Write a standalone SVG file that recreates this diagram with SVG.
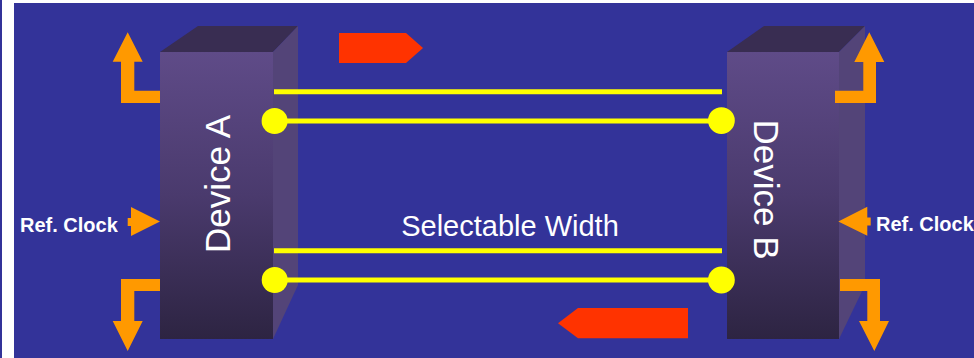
<svg xmlns="http://www.w3.org/2000/svg" width="974" height="358" viewBox="0 0 974 358">
  <defs>
    <linearGradient id="frontFace" x1="0" y1="0" x2="0" y2="1">
      <stop offset="0" stop-color="#5f4b88"/>
      <stop offset="0.5" stop-color="#4a3a6d"/>
      <stop offset="1" stop-color="#2d2442"/>
    </linearGradient>
    <style>
      .bg { fill: #333399; }
      .front { fill: url(#frontFace); }
      .top { fill: #392d52; }
      .side { fill: #534478; }
      .orange { fill: #ff9900; }
      .red { fill: #ff3300; }
      .wire { stroke: #ffff00; stroke-width: 5; fill: none; }
      .dot { fill: #ffff00; }
      .dev-label { font-family: "Liberation Sans", Arial, sans-serif; font-size: 35px; fill: #ffffff; text-anchor: middle; }
      .clock-label { font-family: "Liberation Sans", Arial, sans-serif; font-size: 20px; font-weight: bold; fill: #ffffff; }
      .width-label { font-family: "Liberation Sans", Arial, sans-serif; font-size: 29px; fill: #ffffff; text-anchor: middle; }
    </style>
  </defs>

  <!-- page -->
  <rect x="0" y="0" width="974" height="358" fill="#ffffff"/>
  <rect x="0" y="0" width="2" height="358" class="bg"/>
  <rect x="14" y="3" width="960" height="355" class="bg"/>

  <!-- device A block -->
  <g id="device-a">
    <polygon class="top" points="160,52 198,26 298,26 273,52"/>
    <polygon class="side" points="273,52 298,26 298,285 273,339"/>
    <rect class="front" x="160" y="52" width="113" height="287"/>
    <text class="dev-label" transform="translate(229.5,184) rotate(-90)">Device A</text>
  </g>

  <!-- device B block -->
  <g id="device-b">
    <polygon class="top" points="727,52 764,26 865,26 839,52"/>
    <polygon class="side" points="839,52 865,26 865,285 839,339"/>
    <rect class="front" x="727" y="52" width="112" height="287"/>
    <text class="dev-label" transform="translate(753.5,189.5) rotate(90)">Device B</text>
  </g>

  <!-- links between the two devices -->
  <g id="connectors">
    <line class="wire" x1="274" y1="91.7" x2="722" y2="91.7"/>
    <line class="wire" x1="275" y1="121" x2="721" y2="121"/>
    <circle class="dot" cx="274.6" cy="121" r="13"/>
    <circle class="dot" cx="721.4" cy="120.6" r="13.4"/>
    <line class="wire" x1="274" y1="250.8" x2="722" y2="250.8"/>
    <line class="wire" x1="275" y1="280" x2="721" y2="280"/>
    <circle class="dot" cx="274.7" cy="280" r="13"/>
    <circle class="dot" cx="721.4" cy="280" r="13.4"/>
  </g>

  <text id="width-label" class="width-label" x="510" y="236">Selectable Width</text>

  <!-- direction markers -->
  <g id="flow-right">
    <polygon class="red" points="339,33 406,33 423,48 406,63 339,63"/>
  </g>
  <g id="flow-left">
    <polygon class="red" points="688,308 578,308 558,323.3 578,338.3 688,338.3"/>
  </g>

  <!-- device A I/O -->
  <g id="a-out-top">
    <polygon class="orange" points="127.7,32.3 142.7,61.7 134.3,61.7 134.3,90.7 160,90.7 160,103 121,103 121,61.7 112.7,61.7"/>
  </g>
  <g id="a-out-bottom">
    <polygon class="orange" points="160,279 160,291 134.3,291 134.3,321 142.7,321 127.7,351 112.7,321 121,321 121,279"/>
  </g>
  <g id="a-ref-clock">
    <polygon class="orange" points="127.7,218 131,218 131,207 160,221.5 131,236 131,226 127.7,226"/>
    <text class="clock-label" x="20" y="232">Ref. Clock</text>
  </g>

  <!-- device B I/O -->
  <g id="b-out-top">
    <polygon class="orange" points="869.3,32.3 884.3,62 876,62 876,103 835,103 835,90.7 863.3,90.7 863.3,62 854.3,62"/>
  </g>
  <g id="b-out-bottom">
    <polygon class="orange" points="840,279 880,279 880,321 889,321 874.3,351 859,321 867.3,321 867.3,291 840,291"/>
  </g>
  <g id="b-ref-clock">
    <polygon class="orange" points="838.3,221.5 867.3,206.7 867.3,217.5 870.7,217.5 870.7,225.5 867.3,225.5 867.3,235.7"/>
    <text class="clock-label" x="876" y="231">Ref. Clock</text>
  </g>
</svg>
